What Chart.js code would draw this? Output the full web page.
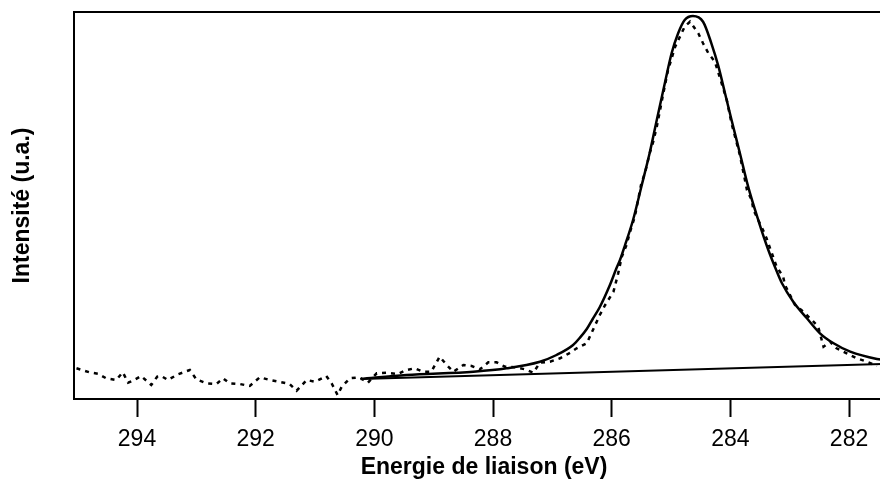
<!DOCTYPE html>
<html><head><meta charset="utf-8">
<script src="https://cdn.jsdelivr.net/npm/chart.js@4.4.1/dist/chart.umd.min.js"></script>
<style>html,body{margin:0;padding:0;background:#fff;overflow:hidden;width:880px;height:481px}canvas{display:block}</style>
</head><body>
<canvas id="c" width="894" height="481" style="width:894px;height:481px"></canvas>
<script>
const xTicks = [294, 292, 290, 288, 286, 284, 282];

const spectrumEnergy = [295.02, 294.80, 294.66, 294.52, 294.35, 294.24, 294.15, 294.07, 293.93, 293.76, 293.66, 293.59, 293.48, 293.31, 293.11, 293.00, 292.83, 292.66, 292.55, 292.44, 292.27, 292.10, 291.93, 291.76, 291.59, 291.43, 291.31, 291.14, 291.00, 290.81, 290.72, 290.62, 290.55, 290.41, 290.25, 290.11, 289.96, 289.79, 289.60, 289.46, 289.32, 289.18, 289.04, 288.90, 288.78, 288.67, 288.50, 288.36, 288.22, 288.08, 287.94, 287.80, 287.63, 287.46, 287.32, 287.21, 287.04, 286.87, 286.70, 286.59, 286.42, 286.20, 286.11, 285.97, 285.89, 285.83, 285.75, 285.69, 285.61, 285.50, 285.44, 285.36, 285.30, 285.24, 285.13, 285.05, 284.93, 284.77, 284.68, 284.54, 284.46, 284.37, 284.26, 284.06, 283.98, 283.84, 283.72, 283.64, 283.61, 283.53, 283.45, 283.39, 283.33, 283.28, 283.22, 283.11, 283.08, 282.91, 282.77, 282.60, 282.52, 282.43, 282.32, 282.21, 282.04, 281.87, 281.70, 281.53];
const spectrumIntensity = [7.93, 6.90, 6.54, 5.35, 4.91, 6.90, 4.21, 4.73, 5.94, 3.62, 5.76, 5.94, 4.91, 6.38, 7.49, 5.09, 4.06, 3.88, 5.35, 4.06, 3.88, 3.36, 5.61, 4.91, 4.39, 3.88, 2.14, 4.91, 4.47, 5.94, 4.06, 1.03, 3.18, 5.35, 5.61, 4.21, 6.64, 6.80, 6.46, 7.49, 7.93, 7.05, 7.05, 10.93, 8.79, 7.05, 8.79, 8.53, 7.67, 9.48, 9.48, 8.35, 8.19, 7.67, 6.80, 9.38, 9.64, 10.52, 11.96, 13.10, 14.39, 21.71, 24.29, 27.73, 32.48, 36.77, 39.79, 43.23, 47.11, 55.74, 58.32, 63.49, 66.49, 70.36, 78.99, 85.01, 91.03, 96.20, 97.49, 94.50, 91.91, 89.33, 87.16, 77.26, 71.24, 63.05, 54.01, 51.42, 48.84, 46.25, 43.67, 41.52, 38.94, 36.77, 34.19, 31.60, 29.46, 24.29, 22.56, 19.97, 18.68, 13.51, 14.81, 13.10, 11.81, 10.52, 9.64, 8.53];

const fitEnergy = [290.23, 289.46, 288.33, 287.77, 287.21, 286.93, 286.65, 286.54, 286.42, 286.32, 286.20, 286.03, 285.92, 285.86, 285.78, 285.64, 285.50, 285.36, 285.24, 285.10, 284.99, 284.88, 284.77, 284.63, 284.46, 284.32, 284.20, 284.09, 283.98, 283.84, 283.70, 283.53, 283.36, 283.25, 283.13, 282.94, 282.71, 282.49, 282.26, 281.98, 281.53, 281.30];
const fitIntensity = [5.17, 6.20, 7.05, 7.93, 9.64, 11.37, 13.95, 15.76, 18.09, 20.67, 23.77, 29.46, 33.77, 35.92, 39.53, 46.25, 54.86, 63.57, 72.09, 81.91, 89.33, 94.50, 97.93, 98.97, 97.49, 91.91, 85.87, 78.99, 72.09, 63.57, 54.86, 46.25, 38.50, 34.19, 29.90, 25.14, 20.85, 16.98, 14.39, 12.22, 10.34, 9.90];

const baselineEnergy = [290.23, 281.30];
const baselineIntensity = [5.17, 9.14];

const toPts = (xs, ys) => xs.map((x, i) => ({x: x, y: ys[i]}));
const FONT = '"Liberation Sans", Arial, Helvetica, sans-serif';

const topBorder = {
  id: 'topBorder',
  afterDraw(chart) {
    const {ctx, chartArea} = chart;
    ctx.save();
    ctx.strokeStyle = '#000';
    ctx.lineWidth = 2;
    ctx.beginPath();
    ctx.moveTo(chartArea.left - 1, chartArea.top);
    ctx.lineTo(chartArea.right + 2, chartArea.top);
    ctx.stroke();
    ctx.restore();
  }
};

new Chart(document.getElementById('c'), {
  type: 'line',
  data: {
    datasets: [
      {
        label: 'Spectre',
        data: toPts(spectrumEnergy, spectrumIntensity),
        borderColor: '#000',
        borderWidth: 2.5,
        borderDash: [4, 5],
        pointRadius: 0,
        tension: 0,
        fill: false
      },
      {
        label: 'Ajustement',
        data: toPts(fitEnergy, fitIntensity),
        borderColor: '#000',
        borderWidth: 2.5,
        pointRadius: 0,
        cubicInterpolationMode: 'monotone',
        fill: false
      },
      {
        label: 'Ligne de base',
        data: toPts(baselineEnergy, baselineIntensity),
        borderColor: '#000',
        borderWidth: 2,
        pointRadius: 0,
        tension: 0,
        fill: false
      }
    ]
  },
  options: {
    responsive: false,
    animation: false,
    devicePixelRatio: 1,
    layout: {padding: {top: 12, left: 0, right: 0, bottom: 0}},
    plugins: {legend: {display: false}, tooltip: {enabled: false}},
    scales: {
      x: {
        type: 'linear',
        reverse: true,
        min: 281.242,
        max: 295.062,
        afterBuildTicks: s => { s.ticks = xTicks.map(v => ({value: v})); },
        afterFit: s => { s.height = 82; },
        grid: {display: true, drawOnChartArea: false, drawTicks: true, tickLength: 18, tickWidth: 2, tickColor: '#000'},
        border: {display: true, color: '#000', width: 2},
        ticks: {color: '#000', font: {family: FONT, size: 23}, padding: 9, maxRotation: 0, autoSkip: false, callback: v => String(v)},
        title: {display: true, text: 'Energie de liaison (eV)', color: '#000', font: {family: FONT, size: 23, weight: 'bold'}, padding: {top: 0, bottom: 0}}
      },
      y: {
        min: 0,
        max: 100,
        afterFit: s => { s.width = 74; },
        grid: {display: false},
        border: {display: true, color: '#000', width: 2},
        ticks: {display: false},
        title: {display: true, text: 'Intensité (u.a.)', color: '#000', font: {family: FONT, size: 23, weight: 'bold'}, padding: {top: 9, bottom: 0}}
      }
    }
  },
  plugins: [topBorder]
});
</script>
</body></html>
